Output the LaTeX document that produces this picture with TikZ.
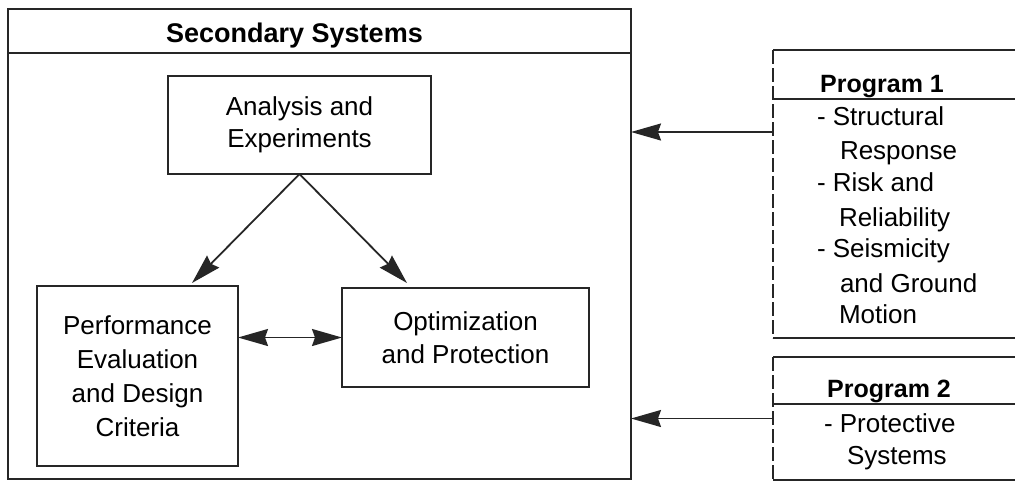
\documentclass[tikz,border=0pt]{standalone}
\usepackage{fontspec}
\setmainfont{Liberation Sans}
\usetikzlibrary{arrows.meta}
\definecolor{ink}{gray}{0.15}
\begin{document}
\begin{tikzpicture}[x=1pt,y=-1pt,
  every node/.style={inner sep=0pt, outer sep=0pt},
  txt/.style={font=\fontsize{26}{33}\selectfont},
  box/.style={draw=ink, line width=2pt, align=center, txt},
  edgeline/.style={draw=ink, line width=2pt},
  thinline/.style={draw=ink, line width=1.5pt},
  dashline/.style={draw=ink, line width=1.8pt, dash pattern=on 14pt off 4pt},
  arr/.style={draw=ink, line width=1.8pt, -{Stealth[length=30pt,width=17pt,inset=3pt]}},
  darr/.style={draw=ink, line width=1.8pt, {Stealth[length=30pt,width=17pt,inset=3pt]}-{Stealth[length=30pt,width=17pt,inset=3pt]}},
  titletxt/.style={font=\bfseries\fontsize{27}{33}\selectfont, anchor=base},
  progtxt/.style={font=\bfseries\fontsize{25}{33}\selectfont, anchor=base},
  item/.style={txt, anchor=base west},
]
\useasboundingbox (0,0) rectangle (1015,483);

% outer box
\node[box, minimum width=623pt, minimum height=470pt] (sec) at (319.5,244) {};
\coordinate (sep) at (0,53);
\draw[edgeline] (sec.west |- sep) -- (sec.east |- sep);
\node[titletxt] (ttl) at (294.5,42.7) {Secondary Systems};

% inner boxes
\node[box, minimum width=263pt, minimum height=98pt, font=\fontsize{26}{32}\selectfont] (ana) at (299.5,125) {Analysis and\\Experiments};
\node[box, minimum width=201pt, minimum height=180pt, font=\fontsize{26}{34}\selectfont] (perf) at (137.5,376) {Performance\\Evaluation\\and Design\\Criteria};
\node[box, minimum width=247pt, minimum height=99pt, font=\fontsize{26}{33}\selectfont] (opt) at (465.5,337.5) {Optimization\\and Protection};

\coordinate (t1) at (192,283);
\coordinate (t2) at (407,283);
\draw[arr] (ana.south) -- (t1);
\draw[arr] (ana.south) -- (t2);
\draw[darr] (perf.east |- opt.west) -- (opt.west);

% program boxes
\node[minimum width=260pt, minimum height=288pt] (prog1) at (903,194) {};
\node[minimum width=260pt, minimum height=123pt] (prog2) at (903,418.5) {};
\coordinate (h1) at (0,99);
\coordinate (h2) at (0,404);
\draw[dashline] (prog1.north west) -- (prog1.south west);
\draw[thinline] (prog1.north west) -- (prog1.north east);
\draw[thinline] (prog1.south west) -- (prog1.south east);
\draw[thinline] (prog1.west |- h1) -- (prog1.east |- h1);
\draw[dashline] (prog2.north west) -- (prog2.south west);
\draw[thinline] (prog2.north west) -- (prog2.north east);
\draw[thinline] (prog2.south west) -- (prog2.south east);
\draw[thinline] (prog2.west |- h2) -- (prog2.east |- h2);

\node[progtxt] (p1t) at (882,92) {Program 1};
\node[item] (p1a) at (817,125) {- Structural};
\node[item] (p1b) at (840,159) {Response};
\node[item] (p1c) at (817,191) {- Risk and};
\node[item] (p1d) at (839,226) {Reliability};
\node[item] (p1e) at (817,257) {- Seismicity};
\node[item] (p1f) at (840,292) {and Ground};
\node[item] (p1g) at (839,323) {Motion};

\node[progtxt] (p2t) at (889,397) {Program 2};
\node[item] (p2a) at (824,432) {- Protective};
\node[item] (p2b) at (847,464) {Systems};

% connectors from programs
\coordinate (a1) at (0,132);
\draw[arr] (prog1.west |- a1) -- (sec.east |- a1);
\draw[arr] (prog2.west) -- (sec.east |- prog2.west);
\end{tikzpicture}
\end{document}
